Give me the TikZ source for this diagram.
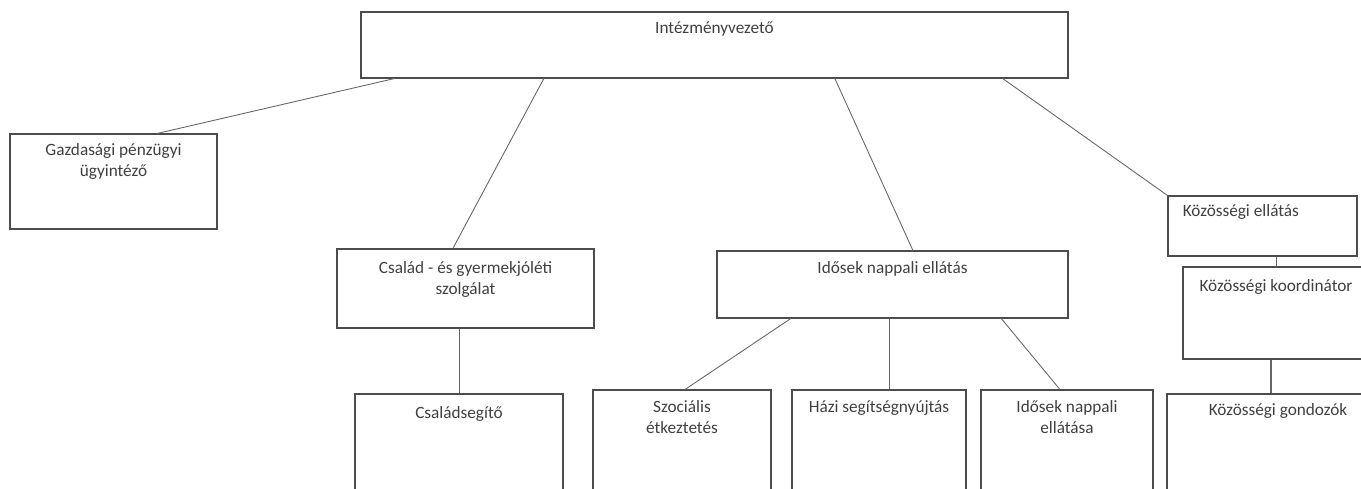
\documentclass[tikz,border=0pt]{standalone}
\usepackage{fontspec}
\setmainfont{Carlito}
\usetikzlibrary{positioning,calc}

\tikzset{
  unit/.style={draw=black!70, line width=0.6pt, rectangle, inner sep=0pt},
  utext/.style={font=\fontsize{9.8}{12}\selectfont, text=black!75, align=center, inner sep=0pt},
  link/.style={draw=black!60, line width=0.5pt}
}

\begin{document}
\begin{tikzpicture}[x=0.2mm, y=-0.2mm]
  \useasboundingbox (0,0) rectangle (1361,489);
  \clip (0,0) rectangle (1361,489);

  % boxes
  \node[unit, minimum width=141.4mm, minimum height=13.2mm] (boss) at (714.5,45) {};
  \node[unit, minimum width=41.4mm, minimum height=19mm] (gazd) at (113.5,181.5) {};
  \node[unit, minimum width=51.4mm, minimum height=15.8mm] (csaladgy) at (465.5,288.5) {};
  \node[unit, minimum width=70.2mm, minimum height=13.4mm] (idosek) at (892.5,284.5) {};
  \node[unit, minimum width=37.8mm, minimum height=12mm] (kozell) at (1262.5,226) {};
  \node[unit, minimum width=37.2mm, minimum height=18.4mm] (kozkoord) at (1276,313) {};

  \node[unit, minimum width=41.6mm, minimum height=22mm] (csaladseg) at (459,449) {};
  \node[unit, minimum width=35.6mm, minimum height=22.8mm] (szoc) at (682,447) {};
  \node[unit, minimum width=34.8mm, minimum height=22.8mm] (hazi) at (879,447) {};
  \node[unit, minimum width=34.4mm, minimum height=22.8mm] (idne) at (1067,447) {};
  \node[unit, minimum width=44.4mm, minimum height=22mm] (gond) at (1278,449) {};

  % texts
  \node[utext, below=2mm of boss.north] (bossT) {Intézményvezető};
  \node[utext, below=2mm of gazd.north] (gazdT) {Gazdasági pénzügyi\\ügyintéző};
  \node[utext, below=2.6mm of csaladgy.north] (csaladgyT) {Család - és gyermekjóléti\\szolgálat};
  \node[utext, below=2.2mm of idosek.north] (idosekT) {Idősek nappali ellátás};
  \node[utext, anchor=north west] (kozellT) at ([xshift=3mm, yshift=-1.8mm]kozell.north west) {Közösségi ellátás};
  \node[utext, below=2.6mm of kozkoord.north] (kozkoordT) {Közösségi koordinátor};
  \node[utext, below=2.6mm of csaladseg.north] (csaladsegT) {Családsegítő};
  \node[utext, below=2.2mm of szoc.north] (szocT) {Szociális\\étkeztetés};
  \node[utext, below=2.2mm of hazi.north] (haziT) {Házi segítségnyújtás};
  \node[utext, below=2.2mm of idne.north] (idneT) {Idősek nappali\\ellátása};
  \node[utext, below=2mm of gond.north] (gondT) {Közösségi gondozók};

  % connectors
  \draw[link] ($(boss.south west)!0.048!(boss.south east)$) -- ($(gazd.north west)!0.71!(gazd.north east)$);
  \draw[link] ($(boss.south west)!0.259!(boss.south east)$) -- ($(csaladgy.north west)!0.451!(csaladgy.north east)$);
  \draw[link] ($(boss.south west)!0.67!(boss.south east)$) -- ($(idosek.north west)!0.558!(idosek.north east)$);
  \draw[link] ($(boss.south west)!0.907!(boss.south east)$) -- (kozell.north west);

  \draw[link] (csaladgy.south -| csaladseg.north) -- (csaladseg.north);
  \draw[link] ($(idosek.south west)!0.211!(idosek.south east)$) -- ($(szoc.north west)!0.517!(szoc.north east)$);
  \coordinate (haziTop) at ($(hazi.north west)!0.56!(hazi.north east)$);
  \draw[link] (haziTop |- idosek.south) -- (haziTop);
  \draw[link] ($(idosek.south west)!0.809!(idosek.south east)$) -- ($(idne.north west)!0.459!(idne.north east)$);

  \draw[link] (kozell.south -| kozkoord.north) -- (kozkoord.north);
  \draw[link, line width=0.9pt] ([xshift=-1mm]kozkoord.south) -- ([xshift=-1mm]kozkoord.south |- gond.north);
\end{tikzpicture}
\end{document}
